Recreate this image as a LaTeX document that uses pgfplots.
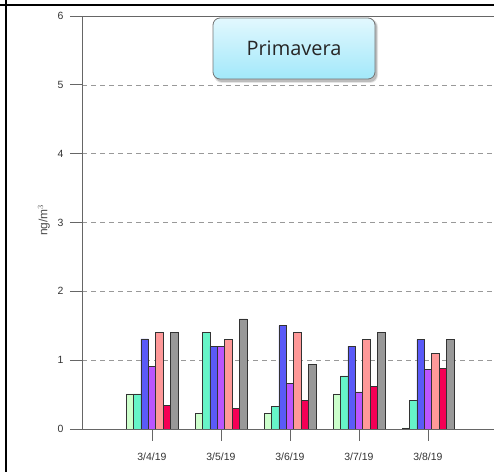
\documentclass[border=0pt]{standalone}
\usepackage{fontspec}
\setmainfont{Liberation Sans}
\newfontfamily\titlefont{Open Sans}
\usepackage{pgfplots}
\pgfplotsset{compat=1.18}
\definecolor{cA}{HTML}{CCFFCC}
\definecolor{cB}{HTML}{66F5C8}
\definecolor{cC}{HTML}{5A5AF8}
\definecolor{cD}{HTML}{BB55FF}
\definecolor{cE}{HTML}{FF9999}
\definecolor{cF}{HTML}{F50055}
\definecolor{cG}{HTML}{999999}
\definecolor{edge}{HTML}{333333}
\definecolor{axgray}{HTML}{666666}
\definecolor{boxtop}{HTML}{E2F8FE}
\definecolor{boxbot}{HTML}{A2E8FA}
\begin{document}
\begin{tikzpicture}[x=1bp,y=1bp]
\path[use as bounding box] (0bp,0bp) rectangle (494bp,472bp);
\begin{axis}[
  at={(82bp,43bp)}, anchor=south west,
  scale only axis, width=412bp, height=413bp,
  xmin=-1.014, xmax=4.957, ymin=0, ymax=6,
  axis x line*=bottom, axis y line*=left,
  ybar=0pt, bar width=7.4bp,
  xtick={0,1,2,3,4},
  xticklabels={3/4/19,3/5/19,3/6/19,3/7/19,3/8/19},
  ytick={0,1,2,3,4,5},
  extra y ticks={6},
  extra y tick style={grid=major, grid style={solid, axgray, line width=0.8bp}},
  ymajorgrids, grid style={dashed, gray!80, dash pattern=on 5bp off 4bp},
  axis line style={-, axgray},
  tick style={axgray, line width=0.8bp},
  tick align=outside, major tick length=12bp,
  tick label style={font=\fontsize{10.5}{12}\selectfont, text=black!80},
  yticklabel style={xshift=-3bp},
  xticklabel style={yshift=-8bp},
  /pgf/number format/assume math mode=true,
  ylabel={ng/m$^{3}$},
  every axis y label/.style={at={(-38bp,0.506)}, rotate=90, anchor=center,
     font=\fontsize{12}{14}\selectfont, text=black!70},
  every axis plot/.append style={draw=edge, line width=0.6bp},
]
\addplot[fill=cA] coordinates {(0,0.51) (1,0.23) (2,0.23) (3,0.51) (4,0.015)};
\addplot[fill=cB] coordinates {(0,0.51) (1,1.40) (2,0.33) (3,0.77) (4,0.42)};
\addplot[fill=cC] coordinates {(0,1.31) (1,1.20) (2,1.50) (3,1.20) (4,1.30)};
\addplot[fill=cD] coordinates {(0,0.91) (1,1.20) (2,0.66) (3,0.54) (4,0.87)};
\addplot[fill=cE] coordinates {(0,1.40) (1,1.30) (2,1.40) (3,1.30) (4,1.10)};
\addplot[fill=cF] coordinates {(0,0.34) (1,0.30) (2,0.42) (3,0.62) (4,0.88)};
\addplot[fill=cG] coordinates {(0,1.40) (1,1.60) (2,0.94) (3,1.40) (4,1.30)};
\end{axis}
\fill[black, opacity=0.18, rounded corners=7bp] (215bp,390bp) rectangle (377bp,452bp);
\fill[black, opacity=0.10, rounded corners=8bp] (214bp,389bp) rectangle (378bp,453bp);
\node[draw=gray!90!black, line width=0.8bp, rounded corners=7bp,
      top color=boxtop, bottom color=boxbot,
      minimum width=162bp, minimum height=61bp,
      font=\titlefont\fontsize{20}{22}\selectfont, text=black!85]
  at (294bp,423.5bp) {Primavera};
\draw[line width=2.6bp] (0bp,467bp) -- (494bp,467bp);
\draw[line width=2.6bp] (6bp,0bp) -- (6bp,472bp);
\end{tikzpicture}
\end{document}
